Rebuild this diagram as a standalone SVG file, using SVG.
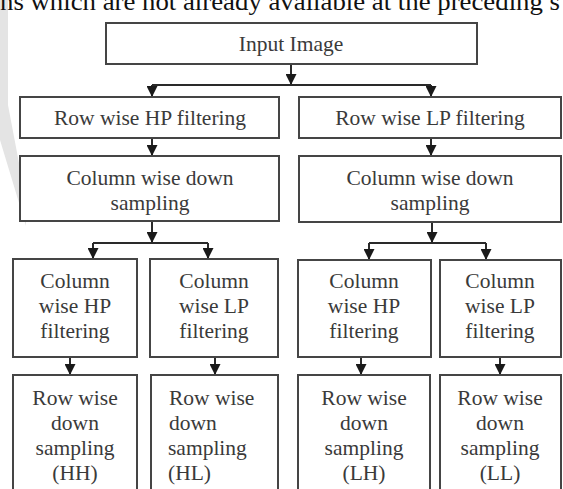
<svg xmlns="http://www.w3.org/2000/svg" width="563" height="489" viewBox="0 0 563 489">
<style>
.box{fill:#fff;stroke:#454545;stroke-width:2}
.t{font-family:"Liberation Serif","Times New Roman",serif;font-size:21.5px;fill:#3a3a3a;text-anchor:middle}
.ts{text-anchor:start}
.c{fill:none;stroke:#2a2a2a;stroke-width:2}
.top{font-family:"Liberation Serif","Times New Roman",serif;font-size:26px;fill:#111}
</style>
<defs>
<marker id="ah" viewBox="0 0 10 10" refX="10" refY="5" markerWidth="11" markerHeight="11" markerUnits="userSpaceOnUse" orient="auto">
<path d="M0,0 L10,5 L0,10 Z" fill="#1a1a1a"/>
</marker>
</defs>
<rect x="0" y="0" width="563" height="489" fill="#fff"/>
<polygon points="0,0 8,0 8,105 26,200 26,226 0,140" fill="#e4e4e4"/>
<text class="top" x="0" y="10" textLength="560" lengthAdjust="spacingAndGlyphs">ns which are not already available at the preceding s</text>

<g id="connectors">
<line class="c" x1="291" y1="64" x2="291" y2="85" marker-end="url(#ah)"/>
<line class="c" x1="152" y1="85" x2="431" y2="85"/>
<line class="c" x1="152" y1="85" x2="152" y2="97" marker-end="url(#ah)"/>
<line class="c" x1="431" y1="85" x2="431" y2="97" marker-end="url(#ah)"/>
<line class="c" x1="152" y1="138" x2="152" y2="156" marker-end="url(#ah)"/>
<line class="c" x1="431" y1="138" x2="431" y2="156" marker-end="url(#ah)"/>
<line class="c" x1="152" y1="221" x2="152" y2="243" marker-end="url(#ah)"/>
<line class="c" x1="93" y1="243" x2="208" y2="243"/>
<line class="c" x1="93" y1="243" x2="93" y2="259" marker-end="url(#ah)"/>
<line class="c" x1="208" y1="243" x2="208" y2="259" marker-end="url(#ah)"/>
<line class="c" x1="432" y1="222" x2="432" y2="243" marker-end="url(#ah)"/>
<line class="c" x1="369" y1="243" x2="486" y2="243"/>
<line class="c" x1="369" y1="243" x2="369" y2="260" marker-end="url(#ah)"/>
<line class="c" x1="486" y1="243" x2="486" y2="260" marker-end="url(#ah)"/>
<line class="c" x1="70" y1="357" x2="70" y2="375" marker-end="url(#ah)"/>
<line class="c" x1="215" y1="357" x2="215" y2="375" marker-end="url(#ah)"/>
<line class="c" x1="361" y1="357" x2="361" y2="375" marker-end="url(#ah)"/>
<line class="c" x1="500" y1="357" x2="500" y2="375" marker-end="url(#ah)"/>
</g>

<g id="input">
<rect class="box" x="106" y="23" width="371" height="41"/>
<text class="t" x="291" y="51">Input Image</text>
</g>
<g id="row-hp">
<rect class="box" x="20" y="97" width="259" height="41"/>
<text class="t" x="150" y="125">Row wise HP filtering</text>
</g>
<g id="row-lp">
<rect class="box" x="299" y="97" width="262" height="41"/>
<text class="t" x="430" y="125">Row wise LP filtering</text>
</g>
<g id="col-ds-left">
<rect class="box" x="20" y="156" width="259" height="65"/>
<text class="t" x="150" y="185">Column wise down</text>
<text class="t" x="150" y="210">sampling</text>
</g>
<g id="col-ds-right">
<rect class="box" x="299" y="156" width="262" height="66"/>
<text class="t" x="430" y="185">Column wise down</text>
<text class="t" x="430" y="210">sampling</text>
</g>
<g id="col-hp-1">
<rect class="box" x="13" y="259" width="124" height="98"/>
<text class="t" x="75" y="288">Column</text>
<text class="t" x="75" y="313">wise HP</text>
<text class="t" x="75" y="338">filtering</text>
</g>
<g id="col-lp-1">
<rect class="box" x="150" y="259" width="128" height="98"/>
<text class="t" x="214" y="288">Column</text>
<text class="t" x="214" y="313">wise LP</text>
<text class="t" x="214" y="338">filtering</text>
</g>
<g id="col-hp-2">
<rect class="box" x="298" y="260" width="133" height="97"/>
<text class="t" x="364" y="288">Column</text>
<text class="t" x="364" y="313">wise HP</text>
<text class="t" x="364" y="338">filtering</text>
</g>
<g id="col-lp-2">
<rect class="box" x="440" y="260" width="121" height="97"/>
<text class="t" x="500" y="288">Column</text>
<text class="t" x="500" y="313">wise LP</text>
<text class="t" x="500" y="338">filtering</text>
</g>
<g id="hh">
<rect class="box" x="13" y="375" width="124" height="130"/>
<text class="t" x="75" y="405">Row wise</text>
<text class="t" x="75" y="430">down</text>
<text class="t" x="75" y="455">sampling</text>
<text class="t" x="75" y="480">(HH)</text>
</g>
<g id="hl">
<rect class="box" x="151" y="375" width="127" height="130"/>
<text class="t ts" x="169" y="405">Row wise</text>
<text class="t ts" x="169" y="430">down</text>
<text class="t ts" x="168" y="455">sampling</text>
<text class="t ts" x="168" y="480">(HL)</text>
</g>
<g id="lh">
<rect class="box" x="298" y="375" width="132" height="130"/>
<text class="t" x="364" y="405">Row wise</text>
<text class="t" x="364" y="430">down</text>
<text class="t" x="364" y="455">sampling</text>
<text class="t" x="364" y="480">(LH)</text>
</g>
<g id="ll">
<rect class="box" x="440" y="375" width="121" height="130"/>
<text class="t" x="500" y="405">Row wise</text>
<text class="t" x="500" y="430">down</text>
<text class="t" x="500" y="455">sampling</text>
<text class="t" x="500" y="480">(LL)</text>
</g>
</svg>
